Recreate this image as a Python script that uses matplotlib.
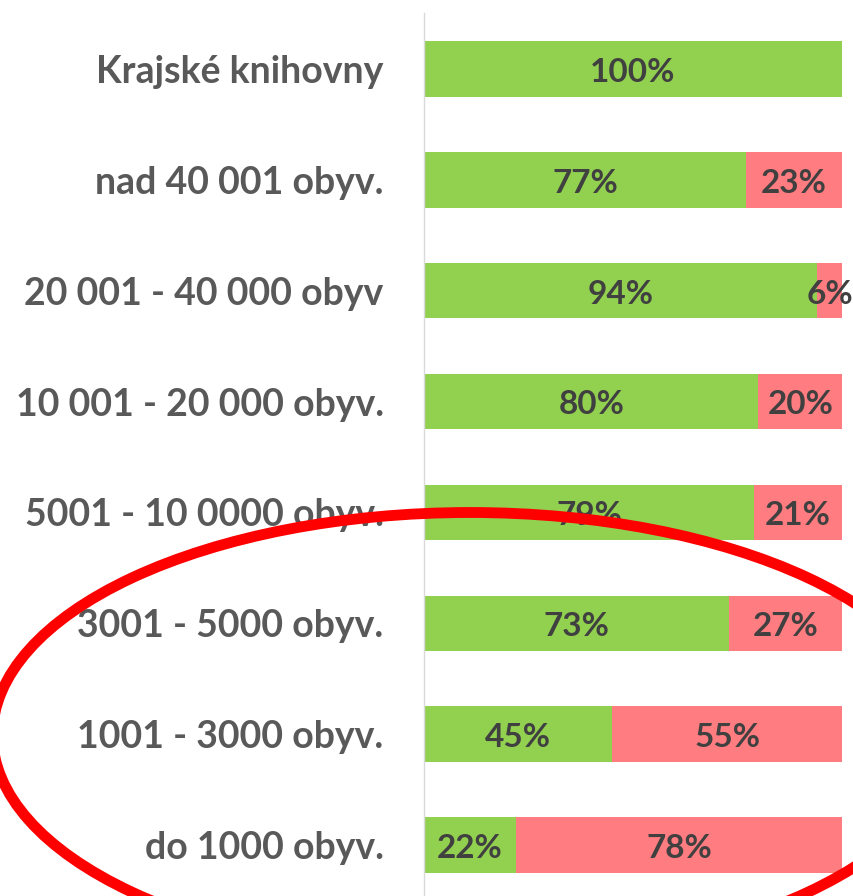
import matplotlib
matplotlib.use("Agg")
import matplotlib.pyplot as plt
from matplotlib.patches import Ellipse

categories = ["Krajské knihovny", "nad 40 001 obyv.", "20 001 - 40 000 obyv",
              "10 001 - 20 000 obyv.", "5001 - 10 0000 obyv.", "3001 - 5000 obyv.",
              "1001 - 3000 obyv.", "do 1000 obyv."]
green_vals = [100, 77, 94, 80, 79, 73, 45, 22]
red_vals = [0, 23, 6, 20, 21, 27, 55, 78]

plt.rcParams['font.family'] = ['Lato', 'DejaVu Sans']

fig = plt.figure(figsize=(8.54, 8.96), dpi=100)
ax = fig.add_axes([424/854, 1 - 900.5/896, (842-424)/854, (900.5-13.5)/896])

y = list(range(len(categories)))
gb = ax.barh(y, green_vals, height=0.5, color="#92D050", zorder=2)
rb = ax.barh(y, red_vals, left=green_vals, height=0.5, color="#FF7C80", zorder=2)

for i in y:
    g = green_vals[i]
    r = red_vals[i]
    if g > 0:
        ax.text(g/2, i + 0.03, f"{g}%", ha="center", va="center", fontsize=24,
                fontweight="bold", color="#404040", zorder=3)
    if r > 0:
        ax.text(g + r/2, i + 0.03, f"{r}%", ha="center", va="center", fontsize=24,
                fontweight="bold", color="#404040", zorder=3)

ax.set_xlim(0, 100)
ax.set_ylim(len(categories) - 0.5, -0.5)
ax.set_yticks(y)
ax.set_yticklabels(categories, fontsize=27, fontweight="bold", color="#595959")
ax.tick_params(axis="y", length=0, pad=29)
ax.set_xticks([])
for s in ["top", "right", "bottom"]:
    ax.spines[s].set_visible(False)
ax.spines["left"].set_color("#D9D9D9")
ax.spines["left"].set_linewidth(1)

ell = Ellipse((470/854, 1 - 735/896), width=955/854, height=445/896,
              transform=fig.transFigure, fill=False, edgecolor="#FF0000",
              linewidth=7.8, zorder=10)
fig.add_artist(ell)

fig.savefig("out.png", dpi=100)
